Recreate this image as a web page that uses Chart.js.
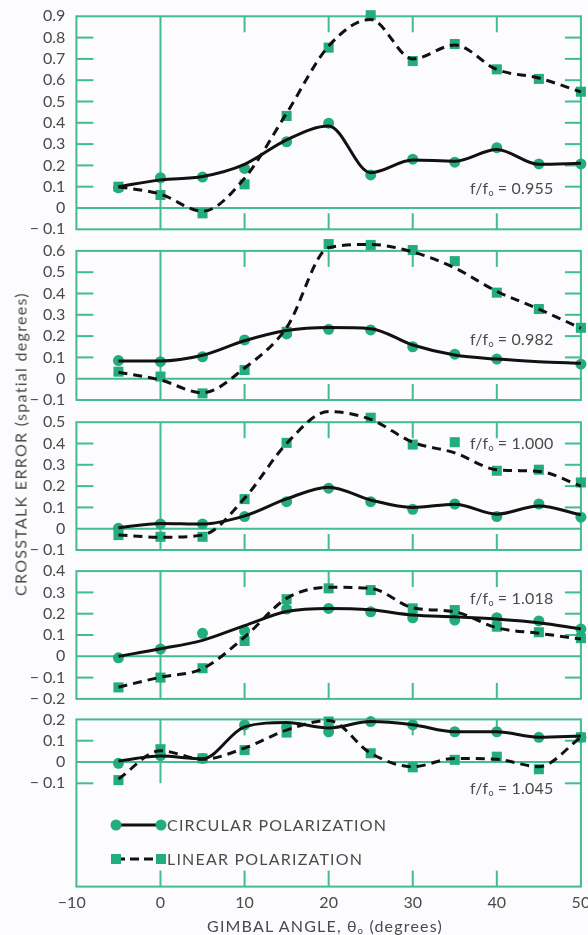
<!DOCTYPE html>
<html>
<head>
<meta charset="utf-8">
<script src="https://cdn.jsdelivr.net/npm/chart.js@4.4.1/dist/chart.umd.min.js"></script>
<style>
  html, body { margin: 0; padding: 0; }
  body {
    width: 588px; height: 935px; overflow: hidden; position: relative;
    background: #fcfbfd; color: #4a4a4a;
    font-family: Lato, "Open Sans", sans-serif;
  }
  canvas { position: absolute; left: 0; top: 0; }
  .note { position: absolute; font-size: 16px; line-height: 18px; white-space: nowrap; letter-spacing: 0.2px; }
  .note sub { font-size: 9px; vertical-align: -2px; letter-spacing: 0; }
  #ytitle {
    position: absolute; left: 20px; top: 444px; font-size: 16px; letter-spacing: 1.3px;
    white-space: nowrap; transform: translate(-50%, -50%) rotate(-90deg);
  }
  #xtitle { position: absolute; left: 325px; top: 926px; font-size: 16px; letter-spacing: 1.2px;
    white-space: nowrap; transform: translate(-50%, -50%); }
  #xtitle sub { font-size: 9px; vertical-align: -2px; }
  .legend { position: absolute; left: 108px; font-size: 16px; letter-spacing: 1.2px; white-space: nowrap;
    display: flex; align-items: center; }
  .legend svg { display: block; }
</style>
</head>
<body>
<canvas id="p1" width="588" height="935"></canvas>
<canvas id="p2" width="588" height="935"></canvas>
<canvas id="p3" width="588" height="935"></canvas>
<canvas id="p4" width="588" height="935"></canvas>
<canvas id="p5" width="588" height="935"></canvas>

<div class="note" style="left:470px; top:179px">f/f<sub>o</sub> = 0.955</div>
<div class="note" style="left:470px; top:330px">f/f<sub>o</sub> = 0.982</div>
<div class="note" style="left:470px; top:434px">f/f<sub>o</sub> = 1.000</div>
<div class="note" style="left:470px; top:589px">f/f<sub>o</sub> = 1.018</div>
<div class="note" style="left:470px; top:779px">f/f<sub>o</sub> = 1.045</div>

<div id="ytitle">CROSSTALK ERROR (spatial degrees)</div>
<div id="xtitle">GIMBAL ANGLE, θ<sub>o</sub> (degrees)</div>

<div class="legend" style="top:815px">
  <svg width="59" height="18" viewBox="0 0 59 18">
    <line x1="8" y1="9" x2="53" y2="9" stroke="#111" stroke-width="3"/>
    <circle cx="8" cy="9" r="5.5" fill="#22ad7a"/>
    <circle cx="53" cy="9" r="5.5" fill="#22ad7a"/>
  </svg>CIRCULAR POLARIZATION</div>
<div class="legend" style="top:849px">
  <svg width="59" height="18" viewBox="0 0 59 18">
    <line x1="8" y1="9" x2="53" y2="9" stroke="#111" stroke-width="3" stroke-dasharray="9 5"/>
    <rect x="3" y="4" width="10" height="10" fill="#22ad7a"/>
    <rect x="48" y="4" width="10" height="10" fill="#22ad7a"/>
  </svg>LINEAR POLARIZATION</div>

<script>
// Gimbal angles at which crosstalk was measured (degrees)
const angles = [-5, 0, 5, 10, 15, 20, 25, 30, 35, 40, 45, 50];

// f/fo = 0.955
const circ955    = [0.095, 0.142, 0.145, 0.186, 0.311, 0.398, 0.155, 0.229, 0.215, 0.283, 0.207, 0.207];
const circ955Fit = [0.100, 0.132, 0.148, 0.205, 0.320, 0.385, 0.166, 0.225, 0.220, 0.275, 0.205, 0.210];
const lin955     = [0.100, 0.061, -0.025, 0.111, 0.432, 0.753, 0.905, 0.690, 0.770, 0.651, 0.606, 0.546];
const lin955Fit  = [0.100, 0.065, -0.015, 0.140, 0.445, 0.760, 0.885, 0.700, 0.765, 0.650, 0.610, 0.545];

// f/fo = 0.982
const circ982    = [0.085, 0.080, 0.103, 0.182, 0.210, 0.232, 0.229, 0.150, 0.115, 0.092, null, 0.068];
const circ982Fit = [0.083, 0.083, 0.110, 0.178, 0.226, 0.240, 0.235, 0.158, 0.111, 0.092, 0.080, 0.072];
const lin982     = [0.033, 0.010, -0.069, 0.041, 0.220, 0.632, 0.628, 0.604, 0.552, 0.404, 0.327, 0.239];
const lin982Fit  = [0.030, -0.006, -0.066, 0.050, 0.240, 0.615, 0.630, 0.595, 0.520, 0.410, 0.327, 0.237];

// f/fo = 1.000
const circ1000    = [0.002, 0.022, 0.022, 0.057, 0.127, 0.190, 0.127, 0.091, 0.116, 0.057, 0.116, 0.054];
const circ1000Fit = [0.005, 0.025, 0.022, 0.060, 0.140, 0.195, 0.135, 0.100, 0.115, 0.068, 0.107, 0.065];
const lin1000     = [-0.030, -0.038, -0.038, 0.139, 0.403, 0.549, 0.521, 0.395, 0.406, 0.272, 0.277, 0.217];
const lin1000Fit  = [-0.030, -0.040, -0.030, 0.143, 0.400, 0.550, 0.513, 0.406, 0.356, 0.277, 0.269, 0.200];

// f/fo = 1.018
const circ1018    = [-0.007, 0.034, 0.108, 0.119, 0.222, 0.225, 0.209, 0.181, 0.170, 0.181, 0.166, 0.128];
const circ1018Fit = [0.000, 0.035, 0.075, 0.144, 0.210, 0.225, 0.218, 0.194, 0.186, 0.175, 0.158, 0.128];
const lin1018     = [-0.146, -0.100, -0.056, 0.072, 0.268, 0.319, 0.311, 0.225, 0.217, 0.139, 0.113, 0.085];
const lin1018Fit  = [-0.145, -0.098, -0.058, 0.090, 0.272, 0.324, 0.319, 0.228, 0.209, 0.134, 0.108, 0.081];

// f/fo = 1.045
const circ1045    = [-0.006, 0.030, 0.017, 0.174, 0.164, 0.142, 0.190, 0.174, 0.142, 0.142, 0.116, 0.116];
const circ1045Fit = [0.005, 0.028, 0.015, 0.165, 0.185, 0.160, 0.190, 0.175, 0.142, 0.142, 0.116, 0.122];
const lin1045     = [-0.085, 0.060, 0.017, 0.056, 0.138, 0.190, 0.041, -0.025, 0.010, 0.025, -0.034, 0.116];
const lin1045Fit  = [-0.080, 0.053, 0.013, 0.065, 0.150, 0.195, 0.041, -0.022, 0.017, 0.013, -0.022, 0.116];

// Axis ticks
const xTicks = [-10, 0, 10, 20, 30, 40, 50];
const yTicks955  = [-0.1, 0, 0.1, 0.2, 0.3, 0.4, 0.5, 0.6, 0.7, 0.8, 0.9];
const yTicks982  = [-0.1, 0, 0.1, 0.2, 0.3, 0.4, 0.5, 0.6];
const yTicks1000 = [-0.1, 0, 0.1, 0.2, 0.3, 0.4, 0.5];
const yTicks1018 = [-0.2, -0.1, 0, 0.1, 0.2, 0.3, 0.4];
const yTicks1045 = [-0.1, 0, 0.1, 0.2];

const GREEN = '#43bc90';
const MARK = '#22ad7a';
const INK = '#111111';
const TEXT = '#4a4a4a';
const PX_PER_UNIT = 213;   // vertical scale shared by all panels
const TICK = 16;

Chart.defaults.font.family = 'Lato, "Open Sans", sans-serif';
Chart.defaults.font.size = 16;
Chart.defaults.color = TEXT;

const fmtX = v => v < 0 ? '\u2212' + Math.abs(v) + '\u2007' : String(v);
const fmtY = v => v === 0 ? '0' : (v < 0 ? '\u2212\u2005' : '') + Math.abs(v).toFixed(1);
const pts = arr => angles.map((a, i) => ({ x: a, y: arr[i] })).filter(p => p.y !== null);

// Frame, zero lines and inward tick marks of each panel
const framePlugin = {
  id: 'frame',
  beforeDatasetsDraw(chart, args, opts) {
    const { ctx, chartArea: a, scales: { x, y } } = chart;
    const seg = (x1, y1, x2, y2) => { ctx.beginPath(); ctx.moveTo(x1, y1); ctx.lineTo(x2, y2); ctx.stroke(); };
    ctx.save();
    ctx.strokeStyle = GREEN;
    ctx.lineWidth = 2;
    ctx.strokeRect(a.left, a.top, a.right - a.left, a.bottom - a.top);
    const y0 = y.getPixelForValue(0);
    const x0 = x.getPixelForValue(0);
    seg(a.left, y0, a.right, y0);
    if (opts.zeroLineTo != null) {
      seg(x0, a.top, x0, y.getPixelForValue(opts.zeroLineTo));
      seg(x0, a.bottom - TICK, x0, a.bottom);
    } else {
      seg(x0, a.top, x0, a.bottom);
    }
    y.ticks.forEach(t => {
      const py = y.getPixelForValue(t.value);
      if (t.value === 0 || Math.abs(py - a.top) < 2 || Math.abs(py - a.bottom) < 2) return;
      seg(a.left, py, a.left + TICK + 1, py);
      seg(a.right - TICK, py, a.right, py);
    });
    xTicks.forEach(v => {
      const px = x.getPixelForValue(v);
      if (v === 0 || Math.abs(px - a.left) < 2 || Math.abs(px - a.right) < 2) return;
      seg(px, a.top, px, a.top + TICK);
      seg(px, a.bottom - TICK, px, a.bottom);
    });
    ctx.restore();
  }
};

const PLOT_LEFT = 76.4;
const PLOT_RIGHT = 584.5;
const X_AXIS_H = 30;

function panel(id, zeroY, yMin, yMax, yTicks, circ, circFit, lin, linFit, isLast) {
  const top = zeroY - yMax * PX_PER_UNIT;
  const bottom = zeroY - yMin * PX_PER_UNIT;
  return new Chart(document.getElementById(id), {
    type: 'line',
    data: {
      datasets: [
        { data: pts(circFit), borderColor: INK, borderWidth: 3, pointRadius: 0,
          cubicInterpolationMode: 'monotone', clip: false },
        { data: pts(linFit), borderColor: INK, borderWidth: 3, borderDash: [9, 6], pointRadius: 0,
          cubicInterpolationMode: 'monotone', clip: false },
        { data: pts(circ), showLine: false, pointStyle: 'circle', pointRadius: 5.5,
          pointBackgroundColor: MARK, pointBorderWidth: 0, clip: false },
        { data: pts(lin), showLine: false, pointStyle: 'rect', pointRadius: 7.1,
          pointBackgroundColor: MARK, pointBorderWidth: 0, clip: false }
      ]
    },
    options: {
      responsive: false,
      animation: false,
      devicePixelRatio: 1,
      events: [],
      layout: {
        padding: {
          left: 0,
          right: 588 - PLOT_RIGHT,
          top: top,
          bottom: 935 - bottom - (isLast ? X_AXIS_H : 0)
        }
      },
      plugins: {
        legend: { display: false },
        tooltip: { enabled: false },
        frame: { zeroLineTo: isLast ? -0.1 : null }
      },
      scales: {
        x: {
          type: 'linear', min: -10, max: 50,
          display: isLast,
          grid: { display: false, drawTicks: false },
          border: { display: false },
          afterBuildTicks: s => { s.ticks = xTicks.map(v => ({ value: v })); },
          afterFit: s => {
            s.height = isLast ? X_AXIS_H : 0;
            s.paddingLeft = 0; s.paddingRight = 0;
          },
          ticks: { padding: 7, maxRotation: 0, autoSkip: false, callback: v => fmtX(v) }
        },
        y: {
          type: 'linear', min: yMin, max: yMax,
          grid: { display: false, drawTicks: false },
          border: { display: false },
          afterBuildTicks: s => { s.ticks = yTicks.map(v => ({ value: v })); },
          afterFit: s => { s.width = PLOT_LEFT; s.paddingTop = 0; s.paddingBottom = 0; },
          ticks: { padding: 11, autoSkip: false, callback: v => fmtY(v) }
        }
      }
    },
    plugins: [framePlugin]
  });
}

panel('p1', 208.0, -0.1, 0.9, yTicks955, circ955, circ955Fit, lin955, lin955Fit, false);
panel('p2', 378.7, -0.1, 0.6, yTicks982, circ982, circ982Fit, lin982, lin982Fit, false);
panel('p3', 528.7, -0.1, 0.5, yTicks1000, circ1000, circ1000Fit, lin1000, lin1000Fit, false);
panel('p4', 656.3, -0.2, 0.4, yTicks1018, circ1018, circ1018Fit, lin1018, lin1018Fit, false);
panel('p5', 762.0, -0.585, 0.2, yTicks1045, circ1045, circ1045Fit, lin1045, lin1045Fit, true);
</script>
</body>
</html>
